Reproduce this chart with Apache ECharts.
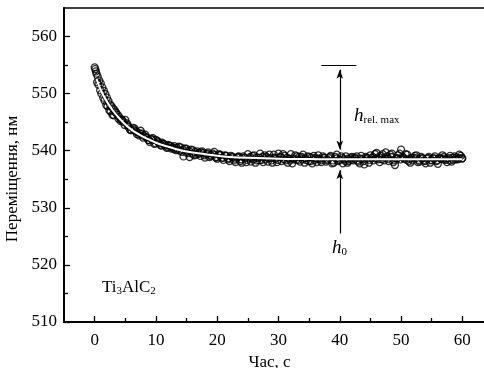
<!DOCTYPE html>
<html>
<head>
<meta charset="utf-8">
<script src="https://cdn.jsdelivr.net/npm/echarts@6/dist/echarts.min.js"></script>
<style>
  html, body { margin: 0; padding: 0; background: #fff; }
  #chart { width: 484px; height: 368px; }
</style>
</head>
<body>
<div id="chart"></div>
<script>
// measured points [time, displacement]
const samples = [
  [0, 554.6], [0.1, 554.3], [0.2, 553.9], [0.3, 553.5], [0.5, 553.0], [0.75, 552.3],
  [1, 551.8], [1.25, 551.1], [1.5, 550.5], [1.75, 549.9], [2, 549.3], [2.25, 548.7],
  [2.5, 548.1], [2.75, 547.8], [3, 547.4], [3.5, 546.6], [4, 545.9], [4.5, 545.3],
  [5, 545.4], [5.5, 544.2], [6, 543.6], [6.5, 543.9], [7, 543.2], [7.5, 543.5],
  [8, 542.6], [8.5, 542.3], [9, 541.5], [9.5, 542.2], [10, 541.9], [10.5, 541.3],
  [11, 541.4], [11.5, 540.9], [12, 541.0], [12.5, 540.4], [13, 540.8], [13.5, 540.2],
  [14, 540.6], [14.5, 539.0], [15, 540.3], [15.5, 538.9], [16, 540.1], [16.5, 539.3],
  [17, 539.6], [17.5, 539.9], [18, 538.8], [18.5, 539.7], [19, 539.2], [19.5, 539.8],
  [20, 538.6], [20.5, 539.3], [21, 538.4], [21.5, 539.1], [22, 538.2], [22.5, 538.9],
  [23, 538.0], [23.5, 539.0], [24, 537.9], [24.5, 538.7], [25, 539.4], [25.5, 538.1],
  [26, 539.2], [26.5, 538.3], [27, 539.5], [27.5, 538.0], [28, 538.9], [28.5, 539.3],
  [29, 537.9], [29.5, 538.6], [30, 539.5], [30.5, 538.2], [31, 539.1], [31.5, 537.9],
  [32, 539.4], [32.5, 538.5], [33, 539.0], [33.5, 538.1], [34, 539.3], [34.5, 538.4],
  [35, 538.9], [35.5, 537.8], [36, 538.7], [36.5, 539.2], [37, 538.0], [37.5, 538.8],
  [38, 538.3], [38.5, 539.1], [39, 537.9], [39.5, 539.3], [40, 538.4], [40.5, 537.8],
  [41, 539.0], [41.5, 538.2], [42, 538.9], [42.5, 538.6], [43, 538.1], [43.5, 539.1],
  [44, 537.6], [44.5, 538.7], [45, 539.2], [45.5, 538.3], [46, 539.6], [46.5, 538.0],
  [47, 539.4], [47.5, 539.7], [48, 538.2], [48.5, 539.5], [49, 537.5], [49.5, 539.2],
  [50, 540.2], [50.5, 538.6], [51, 539.3], [51.5, 537.9], [52, 538.8], [52.5, 539.2],
  [53, 538.1], [53.5, 538.7], [54, 537.8], [54.5, 538.9], [55, 538.3], [55.5, 539.0],
  [56, 537.7], [56.5, 538.6], [57, 538.9], [57.5, 538.0], [58, 539.1], [58.5, 538.4],
  [59, 538.8], [59.5, 539.3], [60, 538.7]
];

// in-between readings
const samplesB = [
  [0.4, 552.0], [0.6, 551.6], [0.9, 550.6], [1.1, 550.0], [1.4, 549.3], [1.6, 548.8],
  [1.9, 548.0], [2.1, 547.8], [2.4, 547.1], [2.6, 546.9], [2.9, 546.3], [3.1, 546.2],
  [3.25, 547.1], [3.75, 546.3], [4.25, 545.2], [4.75, 545.0], [5.25, 544.8], [5.75, 543.7],
  [6.25, 544.0], [6.75, 543.4], [7.25, 542.7], [7.75, 543.0], [8.25, 542.8], [8.75, 541.9],
  [9.25, 542.1], [9.75, 541.2], [10.25, 541.7], [10.75, 541.0], [11.25, 541.2], [11.75, 540.5],
  [12.25, 540.9], [12.75, 540.6], [13.25, 540.1], [13.75, 540.7], [14.25, 539.8], [14.75, 540.4],
  [15.25, 539.6], [15.75, 540.2], [16.25, 539.2], [16.75, 539.9], [17.25, 539.1], [17.75, 539.6],
  [18.25, 539.4], [18.75, 538.9], [19.25, 539.5], [19.75, 538.8], [20.25, 539.4], [20.75, 538.7],
  [21.25, 539.2], [21.75, 538.5], [22.25, 539.1], [22.75, 538.3], [23.25, 538.8], [23.75, 538.2],
  [24.25, 539.0], [24.75, 538.0], [25.25, 538.6], [25.75, 539.1], [26.25, 537.9], [26.75, 538.8],
  [27.25, 538.4], [27.75, 539.2], [28.25, 538.1], [28.75, 538.7], [29.25, 539.3], [29.75, 538.0],
  [30.25, 538.9], [30.75, 539.4], [31.25, 538.3], [31.75, 538.6], [32.25, 537.8], [32.75, 539.2],
  [33.25, 538.4], [33.75, 538.9], [34.25, 537.9], [34.75, 539.0], [35.25, 538.2], [35.75, 539.1],
  [36.25, 538.0], [36.75, 538.6], [37.25, 539.0], [37.75, 538.1], [38.25, 538.7], [38.75, 537.8],
  [39.25, 538.9], [39.75, 538.2], [40.25, 539.0], [40.75, 538.5], [41.25, 537.9], [41.75, 538.8],
  [42.25, 538.3], [42.75, 539.0], [43.25, 537.8], [43.75, 538.5], [44.25, 538.9], [44.75, 537.9],
  [45.25, 538.7], [45.75, 539.4], [46.25, 538.5], [46.75, 539.1], [47.25, 538.3], [47.75, 539.0],
  [48.25, 539.3], [48.75, 538.0], [49.25, 538.6], [49.75, 539.5], [50.25, 538.9], [50.75, 539.4],
  [51.25, 538.2], [51.75, 538.7], [52.25, 539.1], [52.75, 538.0], [53.25, 538.9], [53.75, 538.3],
  [54.25, 538.6], [54.75, 537.9], [55.25, 538.7], [55.75, 538.2], [56.25, 538.8], [56.75, 539.2],
  [57.25, 538.4], [57.75, 538.7], [58.25, 538.1], [58.75, 539.0], [59.25, 538.5], [59.75, 539.1]
];

// readings close to the middle of the band
const samplesC = [
  [3.4, 546.8], [3.9, 545.6], [4.4, 545.5], [4.9, 544.5], [5.4, 544.5], [5.9, 543.6],
  [6.4, 543.6], [6.9, 542.9], [7.4, 543.0], [7.9, 542.3], [8.4, 542.4], [8.9, 541.8],
  [9.4, 541.9], [9.9, 541.3], [10.4, 541.5], [10.9, 540.9], [11.4, 541.1], [11.9, 540.6],
  [12.4, 540.8], [12.9, 540.3], [13.4, 540.5], [13.9, 540.0], [14.4, 540.2], [14.9, 539.7],
  [15.4, 540.0], [15.9, 539.5], [16.4, 539.8], [16.9, 539.4], [17.4, 539.7], [17.9, 539.2],
  [18.4, 539.5], [18.9, 539.1], [19.4, 539.3], [19.9, 538.9], [20.4, 539.2], [20.9, 538.8],
  [21.4, 539.1], [21.9, 538.7], [22.4, 538.9], [22.9, 538.6], [23.4, 538.9], [23.9, 538.5],
  [24.4, 538.8], [24.9, 538.4], [25.4, 538.9], [25.9, 538.5], [26.4, 538.8], [26.9, 538.3],
  [27.4, 538.9], [27.9, 538.5], [28.4, 538.7], [28.9, 538.3], [29.4, 538.8], [29.9, 538.4],
  [30.4, 538.9], [30.9, 538.5], [31.4, 538.8], [31.9, 538.3], [32.4, 538.7], [32.9, 538.4],
  [33.4, 538.9], [33.9, 538.5], [34.4, 538.7], [34.9, 538.2], [35.4, 538.8], [35.9, 538.4],
  [36.4, 538.6], [36.9, 538.3], [37.4, 538.7], [37.9, 538.5], [38.4, 538.9], [38.9, 538.3],
  [39.4, 538.6], [39.9, 538.4], [40.4, 538.7], [40.9, 538.2], [41.4, 538.6], [41.9, 538.4],
  [42.4, 538.8], [42.9, 538.3], [43.4, 538.6], [43.9, 538.2], [44.4, 538.7], [44.9, 538.4],
  [45.4, 538.9], [45.9, 538.6], [46.4, 538.9], [46.9, 538.5], [47.4, 538.8], [47.9, 538.6],
  [48.4, 538.9], [48.9, 538.3], [49.4, 538.7], [49.9, 538.5], [50.4, 538.8], [50.9, 538.4],
  [51.4, 538.6], [51.9, 538.3], [52.4, 538.7], [52.9, 538.4], [53.4, 538.6], [53.9, 538.2],
  [54.4, 538.7], [54.9, 538.4], [55.4, 538.6], [55.9, 538.3], [56.4, 538.7], [56.9, 538.5],
  [57.4, 538.6], [57.9, 538.3], [58.4, 538.8], [58.9, 538.5], [59.4, 538.7], [59.9, 538.6]
];

// fitted curve
const fit = [
  [0.3, 552.6], [1, 550.6], [2, 548.6], [3, 547.0], [4, 545.7], [5, 544.6],
  [6, 543.7], [7, 543.0], [8, 542.4], [9, 541.9], [10, 541.4], [12, 540.7],
  [14, 540.1], [16, 539.7], [18, 539.4], [20, 539.1], [22, 538.9], [25, 538.75],
  [30, 538.6], [35, 538.55], [40, 538.5], [50, 538.5], [60, 538.5]
];

const xMajor = [0, 10, 20, 30, 40, 50, 60];
const xMinor = [5, 15, 25, 35, 45, 55];
const yMajor = [510, 520, 530, 540, 550, 560];
const yMinor = [515, 525, 535, 545, 555];

// annotation geometry in data units
const hMaxLevel = 555;
const hMaxBar = [37, 42.7];
const arrowX = 40;
const relArrow = [554.2, 540.2];
const h0Arrow = [525.5, 536.6];

const font = 'Liberation Serif';

const myChart = echarts.init(document.getElementById('chart'));

// axes that only draw tick marks
const tickAxis = (min, max, pos, values, len) => ({
  type: 'value', min: min, max: max, position: pos,
  axisLine: {show: false, onZero: false},
  splitLine: {show: false},
  axisLabel: {show: false},
  axisTick: {show: true, inside: true, length: len, lineStyle: {color: '#000', width: 1.3}, customValues: values}
});

myChart.setOption({
  animation: false,
  grid: {
    left: 64, top: 8, right: -9, bottom: 46,
    show: true, borderColor: '#000', borderWidth: 1.3,
    outerBoundsMode: 'none'
  },
  xAxis: [
    {
      type: 'value', min: -5, max: 65, position: 'bottom',
      axisLine: {show: true, onZero: false, lineStyle: {color: '#000', width: 2}},
      axisTick: {show: false},
      axisLabel: {show: true, customValues: xMajor, color: '#000', fontFamily: font, fontSize: 17, margin: 10},
      splitLine: {show: false},
      name: 'Час, с', nameLocation: 'middle', nameGap: 29,
      nameTextStyle: {color: '#000', fontFamily: font, fontSize: 17, padding: [0, 18, 0, 0]}
    },
    tickAxis(-5, 65, 'bottom', xMajor, 6),
    tickAxis(-5, 65, 'bottom', xMinor, 4)
  ],
  yAxis: [
    {
      type: 'value', min: 510, max: 565, position: 'left',
      axisLine: {show: true, onZero: false, lineStyle: {color: '#000', width: 2}},
      axisTick: {show: false},
      axisLabel: {show: true, customValues: yMajor, color: '#000', fontFamily: font, fontSize: 17, margin: 7},
      splitLine: {show: false},
      name: 'Переміщення, нм', nameLocation: 'middle', nameGap: 35,
      nameTextStyle: {color: '#000', fontFamily: font, fontSize: 17, padding: [0, 28, 0, 0]}
    },
    tickAxis(510, 565, 'left', yMajor, 6),
    tickAxis(510, 565, 'left', yMinor, 4)
  ],
  series: [
    {
      type: 'scatter',
      data: samples.concat(samplesB, samplesC),
      symbol: 'circle',
      symbolSize: 7,
      itemStyle: {color: 'rgba(255,255,255,0)', borderColor: '#000', borderWidth: 1.3},
      silent: true
    },
    {
      type: 'line',
      data: fit,
      smooth: 0.4,
      showSymbol: false,
      lineStyle: {color: '#fff', width: 2},
      z: 5,
      silent: true,
      markLine: {
        silent: true,
        animation: false,
        label: {show: false},
        symbolSize: [5, 9],
        lineStyle: {color: '#000', width: 1.2, type: 'solid'},
        data: [
          [{coord: [hMaxBar[0], hMaxLevel], symbol: 'none'}, {coord: [hMaxBar[1], hMaxLevel], symbol: 'none'}],
          [{coord: [arrowX, relArrow[0]], symbol: 'arrow'}, {coord: [arrowX, relArrow[1]], symbol: 'arrow'}],
          [{coord: [arrowX, h0Arrow[0]], symbol: 'none'}, {coord: [arrowX, h0Arrow[1]], symbol: 'arrow'}]
        ]
      }
    }
  ],
  graphic: [
    {
      type: 'text', left: 354, top: 106,
      style: {
        text: '{h|h}{s|rel. max}',
        rich: {
          h: {fontFamily: font, fontStyle: 'italic', fontSize: 19, lineHeight: 20, fill: '#000'},
          s: {fontFamily: font, fontSize: 11, lineHeight: 8, verticalAlign: 'bottom', fill: '#000'}
        }
      }
    },
    {
      type: 'text', left: 332, top: 238,
      style: {
        text: '{h|h}{s|0}',
        rich: {
          h: {fontFamily: font, fontStyle: 'italic', fontSize: 19, lineHeight: 20, fill: '#000'},
          s: {fontFamily: font, fontSize: 11, lineHeight: 8, verticalAlign: 'bottom', fill: '#000'}
        }
      }
    },
    {
      type: 'text', left: 102, top: 279,
      style: {
        text: '{n|Ti}{s|3}{n|AlC}{s|2}',
        rich: {
          n: {fontFamily: font, fontSize: 17, lineHeight: 18, fill: '#000'},
          s: {fontFamily: font, fontSize: 11, lineHeight: 7, verticalAlign: 'bottom', fill: '#000'}
        }
      }
    }
  ]
});
</script>
</body>
</html>
